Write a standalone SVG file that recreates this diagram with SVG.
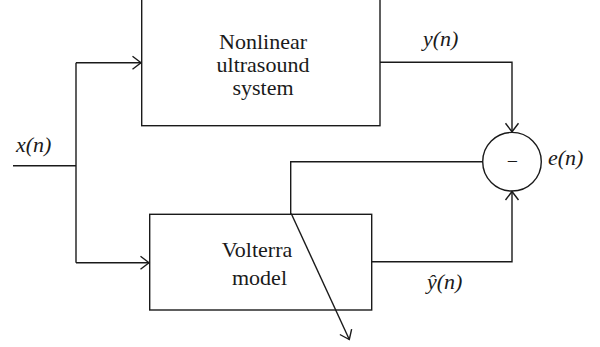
<svg xmlns="http://www.w3.org/2000/svg" width="600" height="347" viewBox="0 0 600 347">
<style>
.box{fill:none;stroke:#1a1a1a;stroke-width:1.4}
.ln{fill:none;stroke:#1a1a1a;stroke-width:1.4}
text{font-family:'Liberation Serif','DejaVu Serif',serif;font-size:22px;fill:#1a1a1a}
.t{text-anchor:middle}
.m{font-style:italic}
</style>
<defs>
<marker id="arr" markerUnits="userSpaceOnUse" viewBox="-10 -8 12 16" refX="0" refY="0" markerWidth="12" markerHeight="16" orient="auto">
<path d="M-8.5,-6.5 L0,0 L-8.5,6.5" fill="none" stroke="#1a1a1a" stroke-width="1.4"/>
</marker>
</defs>
<rect width="600" height="347" fill="#ffffff"/>
<g id="nonlinear-system">
<rect class="box" x="141.7" y="-5" width="238.3" height="130.7"/>
<text class="t" x="263" y="49" font-family="Liberation Serif, serif">Nonlinear</text>
<text class="t" x="263" y="72" font-family="Liberation Serif, serif">ultrasound</text>
<text class="t" x="263" y="95" font-family="Liberation Serif, serif">system</text>
</g>
<g id="volterra-model">
<rect class="box" x="149.7" y="214.3" width="222" height="95.7"/>
<text class="t" x="257" y="257" font-family="Liberation Serif, serif">Volterra</text>
<text class="t" x="259.5" y="285" font-family="Liberation Serif, serif">model</text>
</g>
<g id="summer">
<circle class="box" cx="512" cy="161.7" r="29.3"/>
<text class="t" x="512.5" y="168" style="font-size:20px" font-family="Liberation Serif, serif">−</text>
</g>
<g id="connectors">
<path class="ln" d="M13,165.7 H76"/>
<path class="ln" d="M76,62.7 V262.7"/>
<path class="ln" d="M76,62.7 H141" marker-end="url(#arr)"/>
<path class="ln" d="M76,262.7 H149" marker-end="url(#arr)"/>
<path class="ln" d="M380,62.3 H512 V131.8" marker-end="url(#arr)"/>
<path class="ln" d="M371.7,261.7 H512 V191.5" marker-end="url(#arr)"/>
<path class="ln" d="M482.7,161.7 H290.7 V214.3"/>
<path class="ln" d="M291.2,213.5 L349.3,339.5" marker-end="url(#arr)"/>
</g>
<g id="labels">
<text class="m" x="16" y="151.5" font-family="Liberation Serif, serif">x(n)</text>
<text class="m" x="423" y="46" font-family="Liberation Serif, serif">y(n)</text>
<text class="m" x="548" y="165" font-family="Liberation Serif, serif">e(n)</text>
<text class="m" x="427" y="288.5" font-family="Liberation Serif, serif">ŷ(n)</text>
</g>
</svg>
